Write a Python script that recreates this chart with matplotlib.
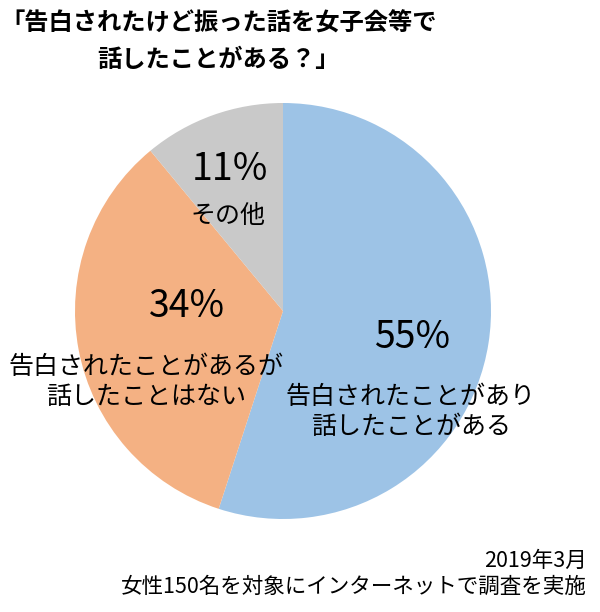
import matplotlib
matplotlib.use("Agg")
import matplotlib.pyplot as plt

plt.rcParams['font.family'] = ['Noto Sans CJK JP', 'DejaVu Sans']

# data
labels = ["告白されたことがあり\n話したことがある", "告白されたことがあるが\n話したことはない", "その他"]
values = [55, 34, 11]
colors = ["#9DC3E6", "#F4B183", "#C9C9C9"]

title_1 = "「告白されたけど振った話を女子会等で"
title_2 = "話したことがある？」"
note_1 = "2019年3月"
note_2 = "女性150名を対象にインターネットで調査を実施"

fig = plt.figure(figsize=(6, 6.12), dpi=100)
ax = fig.add_axes([75/600, 1 - 519/612, 416/600, 416/612])

ax.pie(values, colors=colors, startangle=90, counterclock=False,
       radius=1, wedgeprops=dict(linewidth=0))
ax.set_xlim(-1, 1)
ax.set_ylim(-1, 1)
ax.set_aspect('equal')
ax.axis('off')

# percent labels and category labels (pie data coords)
pct_pos = [(0.62, -0.125), (-0.46, 0.02), (-0.255, 0.678)]
lab_pos = [(0.615, -0.486), (-0.659, -0.339), (-0.264, 0.457)]
for v, lab, pp, lp in zip(values, labels, pct_pos, lab_pos):
    ax.text(pp[0], pp[1], f"{v}%", ha='center', va='center', fontsize=27)
    ax.text(lp[0], lp[1], lab, ha='center', va='center', fontsize=18,
            linespacing=1.2)

fig.text(0.0, 1 - 24/612, title_1, ha='left', va='center',
         fontsize=17.5, fontweight='bold')
fig.text(97/600, 1 - 60/612, title_2, ha='left', va='center',
         fontsize=17.5, fontweight='bold')

fig.text(587/600, 1 - 561/612, note_1, ha='right', va='center', fontsize=15.5)
fig.text(587/600, 1 - 587/612, note_2, ha='right', va='center', fontsize=15.5)

fig.savefig("out.png", dpi=100)
